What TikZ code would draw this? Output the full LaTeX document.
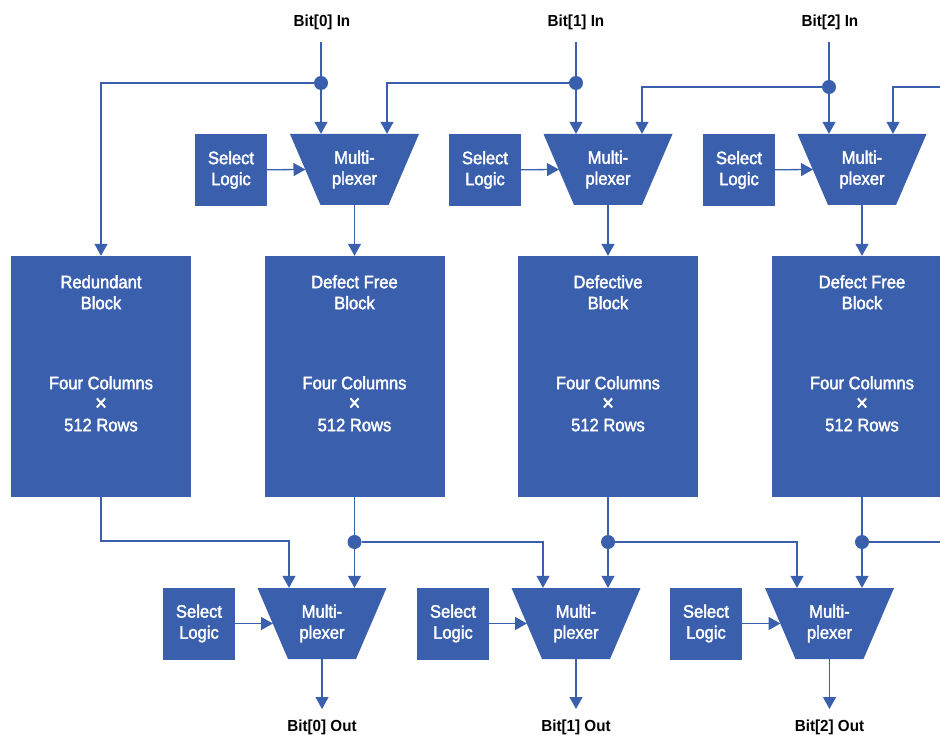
\documentclass[tikz,border=0pt]{standalone}
\usepackage{fontspec}
\setmainfont{Liberation Sans}[FakeStretch=0.95]
\newfontfamily\boxfont{Liberation Sans}[FakeStretch=0.92,FakeBold=2]
\usetikzlibrary{arrows.meta,calc}
\definecolor{hpblue}{RGB}{58,95,172}
\begin{document}
\begin{tikzpicture}[x=1pt,y=-1pt,
  wire/.style={draw=hpblue,line width=1.3pt},
  arr/.style={wire,-{Triangle[width=13pt,length=12pt]}},
  nfont/.style={font=\boxfont\fontsize{18}{21}\selectfont},
  sel/.style={fill=hpblue,minimum width=72pt,minimum height=72pt,text=white,align=center,nfont,inner sep=0pt},
  muxt/.style={minimum width=129pt,minimum height=71pt,text=white,align=center,nfont,inner sep=0pt},
  muxshape/.style={fill=hpblue},
  blk/.style={fill=hpblue,minimum width=180pt,minimum height=241pt,inner sep=0pt},
  btxt/.style={text=white,align=center,nfont,inner sep=0pt},
  io/.style={font=\bfseries\fontsize{16}{19}\selectfont,inner sep=0pt},
  dot/.style={circle,fill=hpblue,inner sep=0pt,minimum size=14pt}]
\clip (0,0) rectangle (940,735);

% input labels
\node[io] (in0) at (322,22) {Bit[0] In};
\node[io] (in1) at (576,22) {Bit[1] In};
\node[io] (in2) at (830,22) {Bit[2] In};
\coordinate (ti0) at (321,42);
\coordinate (ti1) at (576,42);
\coordinate (ti2) at (829,42);

% top dots
\node[dot] (d0) at (321,83) {};
\node[dot] (d1) at (576,83) {};
\node[dot] (d2) at (829,87) {};
\coordinate (r2) at (945,87);

% multiplexers (trapezoids with named text nodes)
\foreach \n/\x/\y in {m0/354.5/169.5, m1/608/169.5, m2/862/169.5,
                      n0/322/623.5, n1/576/623.5, n2/829.5/623.5} {
  \fill[muxshape] (\x-64.5,\y-35.5) -- (\x+64.5,\y-35.5) -- (\x+34,\y+35.5) -- (\x-34,\y+35.5) -- cycle;
  \node[muxt] (\n) at (\x,\y) {Multi-\\plexer};
}

% select logic
\node[sel] (s0) at (231,170) {Select\\Logic};
\node[sel] (s1) at (485,170) {Select\\Logic};
\node[sel] (s2) at (739,170) {Select\\Logic};
\node[sel] (t0) at (199,623.5) {Select\\Logic};
\node[sel] (t1) at (453,623.5) {Select\\Logic};
\node[sel] (t2) at (706,623.5) {Select\\Logic};

% blocks
\node[blk] (b0) at (101,376.5) {};
\node[blk] (b1) at (354.5,376.5) {};
\node[blk] (b2) at (608,376.5) {};
\node[blk] (b3) at (862,376.5) {};
\node[btxt] (h0) at ($(b0.north)+(0,36.5)$) {Redundant\\Block};
\node[btxt] (h1) at ($(b1.north)+(0,36.5)$) {Defect Free\\Block};
\node[btxt] (h2) at ($(b2.north)+(0,36.5)$) {Defective\\Block};
\node[btxt] (h3) at ($(b3.north)+(0,36.5)$) {Defect Free\\Block};
\foreach \b/\g in {b0/g0, b1/g1, b2/g2, b3/g3}
  \node[btxt] (\g) at ($(\b.north)+(0,148)$) {Four Columns\\{\fontsize{22}{21}\selectfont ×}\\512 Rows};

% bottom dots
\coordinate (j0) at (289,541);
\node[dot] (e1) at (354.5,542) {};
\node[dot] (e2) at (608,542) {};
\node[dot] (e3) at (862,542) {};
\coordinate (r3) at (945,542);

% outputs
\coordinate (o0) at (322,709);
\coordinate (o1) at (576,709);
\coordinate (o2) at (829.5,709);
\node[io] (out0) at (322,727) {Bit[0] Out};
\node[io] (out1) at (576,727) {Bit[1] Out};
\node[io] (out2) at (829.5,727) {Bit[2] Out};

% top wiring
\draw[wire] (ti0) -- (d0);
\draw[wire] (ti1) -- (d1);
\draw[wire] (ti2) -- (d2);
\draw[arr] (d0) -- (d0 |- m0.north);
\draw[arr] (d1) -- (d1 |- m1.north);
\draw[arr] (d2) -- (d2 |- m2.north);
\draw[arr] (d0) -| (b0.north);
\draw[arr] (d1) -| ($(m0.north)+(32.5,0)$);
\draw[arr] (d2) -| ($(m1.north)+(34,0)$);
\draw[arr] (r2) -| ($(m2.north)+(31,0)$);
\draw[arr] (s0) -- ($(m0.center)+(-49,0)$);
\draw[arr] (s1) -- ($(m1.center)+(-49,0)$);
\draw[arr] (s2) -- ($(m2.center)+(-49,0)$);
\draw[arr] (m0.south) -- (b1.north);
\draw[arr] (m1.south) -- (b2.north);
\draw[arr] (m2.south) -- (b3.north);

% bottom wiring
\draw[arr] (b0.south) |- (j0) -- (j0 |- n0.north);
\draw[wire] (b1.south) -- (e1);
\draw[wire] (b2.south) -- (e2);
\draw[wire] (b3.south) -- (e3);
\draw[arr] (e1) -- (e1 |- n0.north);
\draw[arr] (e2) -- (e2 |- n1.north);
\draw[arr] (e3) -- (e3 |- n2.north);
\draw[arr] (e1) -| ($(n1.north)+(-33,0)$);
\draw[arr] (e2) -| ($(n2.north)+(-32.5,0)$);
\draw[wire] (e3) -- (r3);
\draw[arr] (t0) -- ($(n0.center)+(-49,0)$);
\draw[arr] (t1) -- ($(n1.center)+(-49,0)$);
\draw[arr] (t2) -- ($(n2.center)+(-49,0)$);
\draw[arr] (n0.south) -- (o0);
\draw[arr] (n1.south) -- (o1);
\draw[arr] (n2.south) -- (o2);
\end{tikzpicture}
\end{document}
